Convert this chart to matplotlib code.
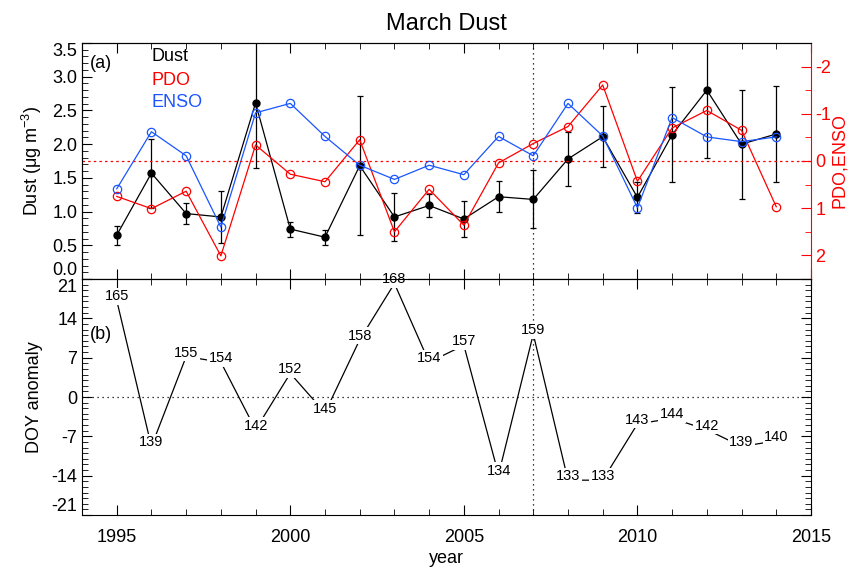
import numpy as np
import matplotlib
matplotlib.use('Agg')
import matplotlib.pyplot as plt
from matplotlib.ticker import MultipleLocator

years = list(range(1995, 2015))

# (a) March dust, with error bars, and the two indices
dust = [0.65, 1.57, 0.97, 0.92, 2.61, 0.74, 0.62, 1.68, 0.92, 1.09,
        0.89, 1.22, 1.18, 1.78, 2.11, 1.21, 2.14, 2.80, 2.00, 2.15]
dust_err = [0.14, 0.51, 0.15, 0.39, 0.96, 0.11, 0.11, 1.03, 0.35, 0.17,
            0.26, 0.23, 0.43, 0.40, 0.45, 0.23, 0.70, 1.00, 0.81, 0.71]
pdo = [0.75, 1.01, 0.64, 2.01, -0.34, 0.28, 0.44, -0.45, 1.50, 0.60,
       1.36, 0.04, -0.37, -0.73, -1.61, 0.43, -0.70, -1.07, -0.65, 0.97]
enso = [0.59, -0.62, -0.11, 1.40, -1.02, -1.22, -0.52, 0.09, 0.39, 0.09,
        0.29, -0.52, -0.11, -1.22, -0.53, 0.99, -0.92, -0.51, -0.41, -0.51]

# (b) day of year
doy = [165, 139, 155, 154, 142, 152, 145, 158, 168, 154,
       157, 134, 159, 133, 133, 143, 144, 142, 139, 140]

fam = 'Liberation Sans'
plt.rcParams['font.family'] = [fam, 'DejaVu Sans']
plt.rcParams['mathtext.fontset'] = 'custom'
plt.rcParams['mathtext.rm'] = fam
plt.rcParams['axes.unicode_minus'] = False

fig = plt.figure(figsize=(8.57, 5.73), dpi=100)
ax1 = fig.add_axes([0.0957, 0.5131, 0.8506, 0.4119])
ax3 = fig.add_axes([0.0957, 0.1012, 0.8506, 0.4119])

fs = 13
blue = '#1a55ff'


def style_x(ax, labels):
    ax.set_xlim(1994, 2015)
    ax.xaxis.set_major_locator(MultipleLocator(5))
    ax.xaxis.set_minor_locator(MultipleLocator(1))
    ax.tick_params(axis='x', which='both', direction='in', top=True, bottom=True,
                   labelbottom=labels, labelsize=fs, pad=10)
    ax.tick_params(axis='x', which='major', length=7)
    ax.tick_params(axis='x', which='minor', length=4)


def style_y(ax, major, minor, **kw):
    ax.yaxis.set_major_locator(MultipleLocator(major))
    ax.yaxis.set_minor_locator(MultipleLocator(minor))
    ax.tick_params(axis='y', which='both', direction='in', labelsize=fs, **kw)
    ax.tick_params(axis='y', which='major', length=7)
    ax.tick_params(axis='y', which='minor', length=4)


# ---- panel (a)
ax1.errorbar(years, dust, yerr=dust_err, fmt='o-', color='black', ms=5,
             lw=0.9, elinewidth=0.9, capsize=2.5, capthick=0.9, zorder=3)
ax1.set_ylim(0, 3.5)
style_y(ax1, 0.5, 0.1, right=False)
ax1.yaxis.set_major_formatter(plt.FormatStrFormatter('%.1f'))
ax1.spines['right'].set_visible(False)
style_x(ax1, False)
ax1.set_ylabel(r'Dust ($\mathregular{\mu}$g m$^{-3}$)', fontsize=fs, labelpad=6)
ax1.axvline(2007, color='black', ls=(0, (1, 3)), lw=0.9)

ax2 = ax1.twinx()
ax2.plot(years, pdo, 'o-', color='red', mfc='none', ms=6, lw=0.9, mew=0.9)
ax2.plot(years, enso, 'o-', color=blue, mfc='none', ms=6, lw=0.9, mew=0.9)
ax2.axhline(0, color='red', ls=(0, (2, 2.5)), lw=0.9)
ax2.set_ylim(2.5, -2.5)
style_y(ax2, 1, 0.5, colors='red', pad=3)
ax2.spines['right'].set_color('red')
ax2.set_ylabel('PDO,ENSO', color='red', fontsize=fs, labelpad=0)

ax1.text(0.011, 0.915, '(a)', transform=ax1.transAxes, fontsize=fs, va='center')
ax1.text(0.0956, 0.942, 'Dust', transform=ax1.transAxes, fontsize=fs, va='center', color='black')
ax1.text(0.0956, 0.843, 'PDO', transform=ax1.transAxes, fontsize=fs, va='center', color='red')
ax1.text(0.0956, 0.747, 'ENSO', transform=ax1.transAxes, fontsize=fs, va='center', color=blue)
ax1.set_title('March Dust', fontsize=17, pad=9)

# ---- panel (b)
anom = np.array(doy) - np.mean(doy)
ax3.plot(years, anom, color='black', lw=0.9, zorder=2)
for x, y, d in zip(years, anom, doy):
    ax3.text(x, y, str(d), ha='center', va='baseline', fontsize=10.5, zorder=5,
             clip_on=False,
             bbox=dict(facecolor='white', edgecolor='none', pad=1.0))
ax3.axhline(0, color='black', ls=(0, (1, 3)), lw=0.9, zorder=1)
ax3.axvline(2007, color='black', ls=(0, (1, 3)), lw=0.9, zorder=1)
ax3.set_ylim(-21, 21)
style_y(ax3, 7, 1, right=True)
style_x(ax3, True)
ax3.set_ylabel('DOY anomaly', fontsize=fs, labelpad=6)
ax3.set_xlabel('year', fontsize=fs, labelpad=3)
ax3.text(0.011, 0.763, '(b)', transform=ax3.transAxes, fontsize=fs, va='center')

# keep the end labels of the left axes inside their panels
ax1.set_yticks(np.arange(0, 3.51, 0.5))
ax3.set_yticks(np.arange(-21, 22, 7))
t1 = ax1.yaxis.get_major_ticks()
t1[0].label1.set_verticalalignment('bottom')
t1[-1].label1.set_verticalalignment('top')
t3 = ax3.yaxis.get_major_ticks()
t3[0].label1.set_verticalalignment('bottom')
t3[-1].label1.set_verticalalignment('top')

fig.savefig('out.png', dpi=100)
